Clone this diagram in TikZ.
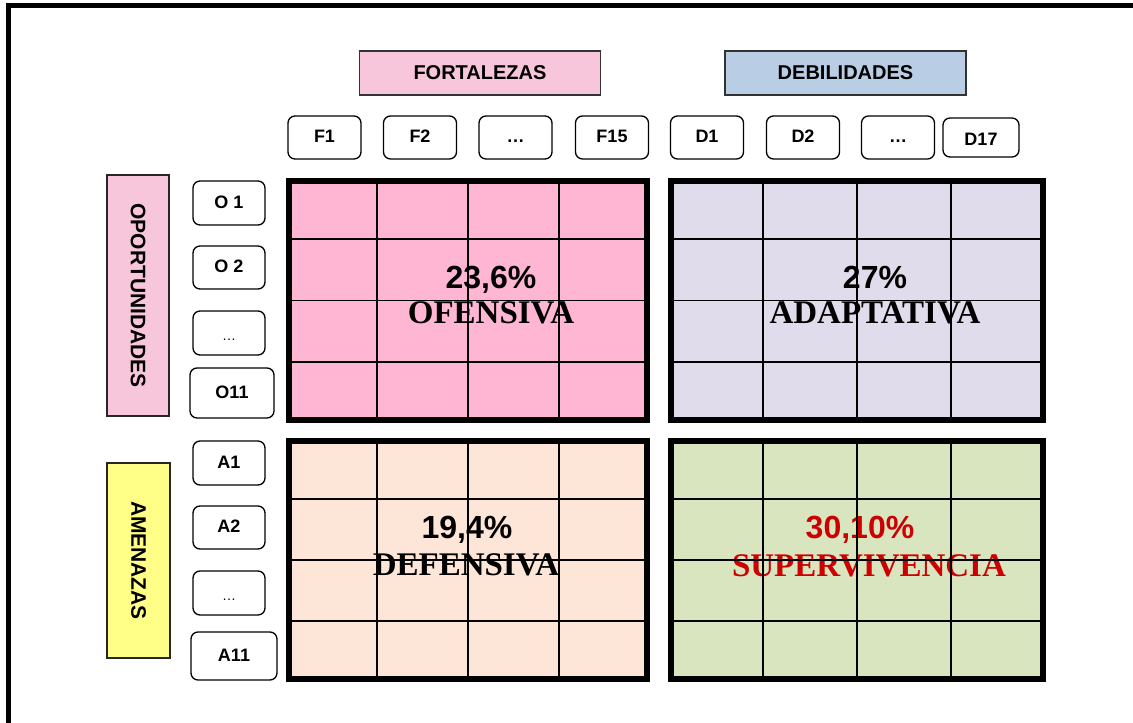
\documentclass[tikz,border=0pt]{standalone}
\usepackage{fontspec}
\setmainfont{Liberation Serif}
\setsansfont{Liberation Sans}
\usetikzlibrary{positioning, calc}
\definecolor{fortpink}{HTML}{F8C6DA}
\definecolor{debblue}{HTML}{B9CDE5}
\definecolor{amenyellow}{HTML}{FFFF88}
\definecolor{ofpink}{HTML}{FFB6D3}
\definecolor{adlilac}{HTML}{E1DCEB}
\definecolor{depeach}{HTML}{FDE6D8}
\definecolor{sugreen}{HTML}{D9E5BF}
\definecolor{survred}{HTML}{CC0000}

\begin{document}
\begin{tikzpicture}[x=1pt, y=-1pt,
    header/.style={rectangle, draw=black!80, line width=1.6pt, minimum width=241pt, minimum height=44pt, font=\sffamily\bfseries\fontsize{20}{24}\selectfont},
    sidebox/.style={rectangle, draw=black!85, line width=1.6pt, rotate=-90, font=\sffamily\bfseries\fontsize{21}{25}\selectfont},
    item/.style={rectangle, rounded corners=7pt, draw, line width=1.3pt, minimum width=73pt, minimum height=43pt, text height=13pt, text depth=3pt, font=\sffamily\bfseries\fontsize{18}{21}\selectfont},
    dotbox/.style={item, text height=17pt, font=\sffamily\fontsize{14}{16}\selectfont},
    quad/.style={rectangle, draw, line width=5.5pt},
    pct/.style={anchor=base, font=\sffamily\bfseries\fontsize{32}{37}\selectfont},
    strat/.style={anchor=base, font=\rmfamily\bfseries\fontsize{33}{38}\selectfont},
    gridline/.style={line width=1.8pt},
    frame/.style={line width=4.7pt}
  ]
  \useasboundingbox (0,0) rectangle (1133,723);
  \draw[frame] (8.3,740) -- (8.3,5.3) -- (1150,5.3);

  \node[header, fill=fortpink] (fortalezas) at (480,73) {FORTALEZAS};
  \node[header, fill=debblue] (debilidades) at (845.5,73) {DEBILIDADES};

  \foreach \nm/\xx/\txt in {f1/324.5/F1, f2/420/F2, fdots/515.5/\ldots, f15/612/F15, d1/707/D1, d2/803/D2, ddots/898/\ldots}
    \node[item] (\nm) at (\xx,137.5) {\txt};
  \node[item, minimum width=76pt, minimum height=39pt, text height=19pt] (d17) at (981,137.5) {D17};

  \node[sidebox, fill=fortpink, minimum width=241pt, minimum height=62pt] (oportunidades) at (138,295.5) {OPORTUNIDADES};
  \node[sidebox, fill=amenyellow, minimum width=195pt, minimum height=63pt] (amenazas) at (138.5,560.5) {AMENAZAS};

  \node[item, minimum width=72pt, minimum height=44pt] (o1) at (229,203) {O 1};
  \node[item, minimum width=72pt, minimum height=43pt] (o2) at (229,267.5) {O 2};
  \node[dotbox, minimum width=72pt, minimum height=44pt] (odots) at (229,333) {\ldots};
  \node[item, minimum width=84pt, minimum height=50pt] (o11) at (232,393) {O11};
  \node[item, minimum width=72pt, minimum height=44pt] (a1) at (229,463) {A1};
  \node[item, minimum width=72pt, minimum height=43pt] (a2) at (229,527.5) {A2};
  \node[dotbox, minimum width=72pt, minimum height=44pt] (adots) at (229,593) {\ldots};
  \node[item, minimum width=86pt, minimum height=48pt] (a11) at (234,656) {A11};

  \node[quad, fill=ofpink, minimum width=358pt, minimum height=239pt] (ofensiva) at (468,300.5) {};
  \node[quad, fill=adlilac, minimum width=372pt, minimum height=239pt] (adaptativa) at (857,300.5) {};
  \node[quad, fill=depeach, minimum width=358pt, minimum height=238pt] (defensiva) at (468,560) {};
  \node[quad, fill=sugreen, minimum width=372pt, minimum height=238pt] (supervivencia) at (857,560) {};

  \node[pct] (ofpct) at (491,288) {23,6\%};
  \node[strat] (oftxt) at (491,323) {OFENSIVA};
  \node[pct] (adpct) at (875,288) {27\%};
  \node[strat] (adtxt) at (875,323) {ADAPTATIVA};
  \node[pct] (depct) at (467,538) {19,4\%};
  \node[strat] (detxt) at (466,575) {DEFENSIVA};
  \node[pct, survred] (supct) at (860,538) {30,10\%};
  \node[strat, survred] (sutxt) at (869,576) {SUPERVIVENCIA};

  \foreach \q in {ofensiva, adaptativa, defensiva, supervivencia} {
    \foreach \i in {1,2,3} {
      \draw[gridline] ($(\q.north west)!\i/4!(\q.north east)$) -- ($(\q.south west)!\i/4!(\q.south east)$);
      \draw[gridline] ($(\q.north west)!\i/4!(\q.south west)$) -- ($(\q.north east)!\i/4!(\q.south east)$);
    }
  }
\end{tikzpicture}
\end{document}
